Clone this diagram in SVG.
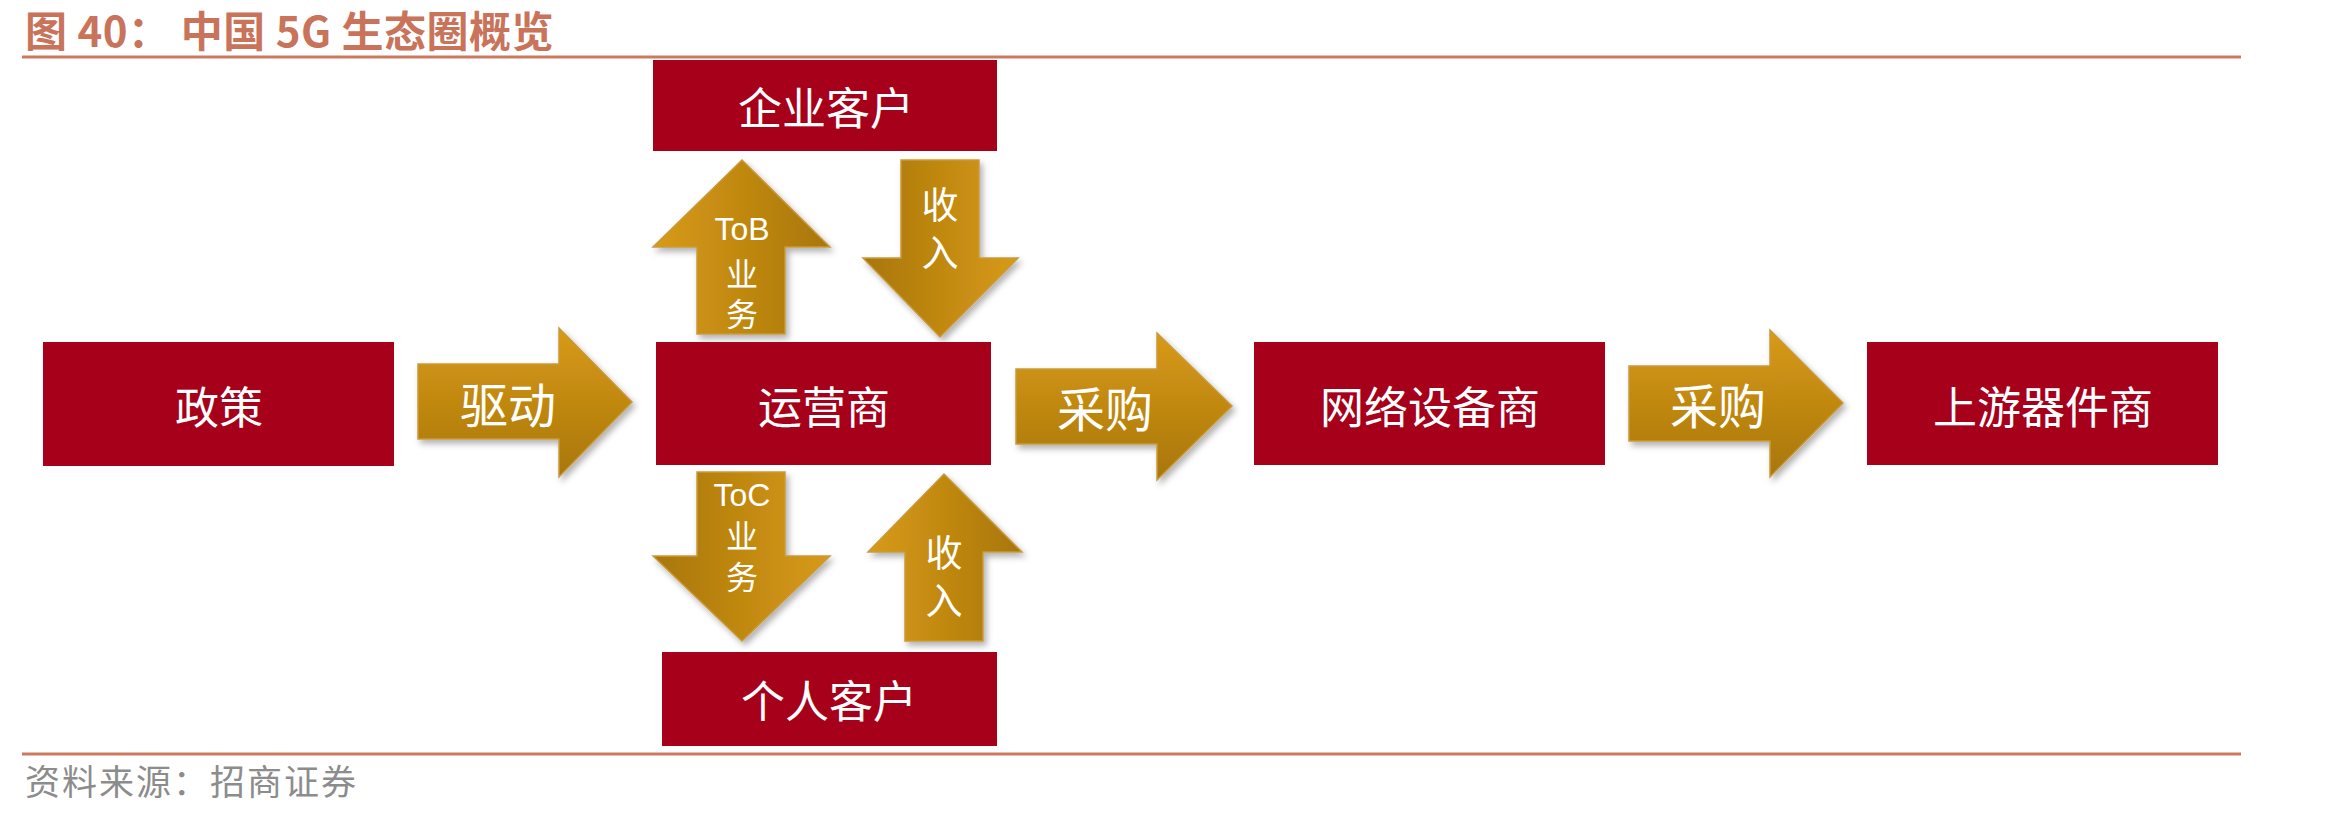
<svg xmlns="http://www.w3.org/2000/svg" width="2350" height="815" viewBox="0 0 2350 815">
<defs>
<linearGradient id="gv" x1="0" y1="0" x2="0" y2="1"><stop offset="0" stop-color="#D89A14"/><stop offset="1" stop-color="#A8760E"/></linearGradient>
<linearGradient id="glr" x1="0" y1="0" x2="1" y2="0"><stop offset="0" stop-color="#D89A14"/><stop offset="1" stop-color="#A8760E"/></linearGradient>
<linearGradient id="grl" x1="0" y1="0" x2="1" y2="0"><stop offset="0" stop-color="#A8760E"/><stop offset="1" stop-color="#D89A14"/></linearGradient>
<filter id="sh" x="-10%" y="-10%" width="130%" height="130%"><feDropShadow dx="3" dy="4" stdDeviation="3" flood-color="#000" flood-opacity="0.3"/></filter>
</defs>
<style>
.box{fill:#A6001A}
.bt{font-family:"Noto Sans CJK SC",sans-serif;font-size:44px;fill:#fff;text-anchor:middle;dominant-baseline:central}
.at{font-family:"Noto Sans CJK SC",sans-serif;font-size:48px;fill:#fff;text-anchor:middle;dominant-baseline:central}
.lab{font-family:"Noto Sans CJK SC",sans-serif;fill:#fff;text-anchor:middle}
.vt{font-family:"Liberation Sans",sans-serif;font-size:32px}
.vc{font-size:32px}
.vr{font-size:37px}
.arr{stroke:#C99A3A;stroke-width:1.5;filter:url(#sh)}
.rule{stroke:#CC7A5E;stroke-width:3}
</style>
<text x="25" y="47" font-family="'Noto Sans CJK SC',sans-serif" font-weight="bold" font-size="42" letter-spacing="0.5" fill="#C8735A" xml:space="preserve">图 40： 中国 5G 生态圈概览</text>
<line class="rule" x1="22" y1="57" x2="2241" y2="57"/>
<line class="rule" x1="22" y1="754" x2="2241" y2="754"/>
<text x="25" y="795" font-family="'Noto Sans CJK SC',sans-serif" font-size="35" letter-spacing="2" fill="#8C8C8C">资料来源：招商证券</text>

<g id="connectors">
<g id="arrow-qudong"><path class="arr" fill="url(#gv)" d="M418,364 H559 V328 L632,402 L559,477 V439 H418 Z"/><text class="at" x="508" y="402">驱动</text></g>
<g id="arrow-caigou1"><path class="arr" fill="url(#gv)" d="M1016,369 H1157 V333 L1232,406 L1157,480 V444 H1016 Z"/><text class="at" x="1105" y="406">采购</text></g>
<g id="arrow-caigou2"><path class="arr" fill="url(#gv)" d="M1629,366 H1770 V330 L1843,403 L1770,477 V441 H1629 Z"/><text class="at" x="1718" y="403">采购</text></g>
<g id="arrow-tob"><path class="arr" fill="url(#glr)" d="M697,334 V247 H653 L742,160 L830,247 H785 V334 Z"/><text class="lab"><tspan class="vt" x="742" y="240">ToB</tspan><tspan class="vc" x="742" y="286">业</tspan><tspan class="vc" x="742" y="326">务</tspan></text></g>
<g id="arrow-shouru-top"><path class="arr" fill="url(#grl)" d="M901,160 H979 V258 H1018 L940,337 L863,258 H901 Z"/><text class="lab vr"><tspan x="940" y="219">收</tspan><tspan x="940" y="267">入</tspan></text></g>
<g id="arrow-toc"><path class="arr" fill="url(#grl)" d="M697,472 H785 V556 H830 L742,641 L653,556 H697 Z"/><text class="lab"><tspan class="vt" x="742" y="506">ToC</tspan><tspan class="vc" x="742" y="548">业</tspan><tspan class="vc" x="742" y="589">务</tspan></text></g>
<g id="arrow-shouru-bottom"><path class="arr" fill="url(#glr)" d="M905,641 V552 H868 L944,474 L1022,552 H983 V641 Z"/><text class="lab vr"><tspan x="944" y="567">收</tspan><tspan x="944" y="615">入</tspan></text></g>
</g>

<g id="node-zhengce"><rect class="box" x="43" y="342" width="351" height="124"/><text class="bt" x="219" y="405">政策</text></g>
<g id="node-qiye"><rect class="box" x="653" y="60" width="344" height="91"/><text class="bt" x="826" y="106">企业客户</text></g>
<g id="node-yunying"><rect class="box" x="656" y="342" width="335" height="123"/><text class="bt" x="824" y="405">运营商</text></g>
<g id="node-geren"><rect class="box" x="662" y="652" width="335" height="94"/><text class="bt" x="829" y="699">个人客户</text></g>
<g id="node-wangluo"><rect class="box" x="1254" y="342" width="351" height="123"/><text class="bt" x="1430" y="405">网络设备商</text></g>
<g id="node-shangyou"><rect class="box" x="1867" y="342" width="351" height="123"/><text class="bt" x="2043" y="405">上游器件商</text></g>
</svg>
